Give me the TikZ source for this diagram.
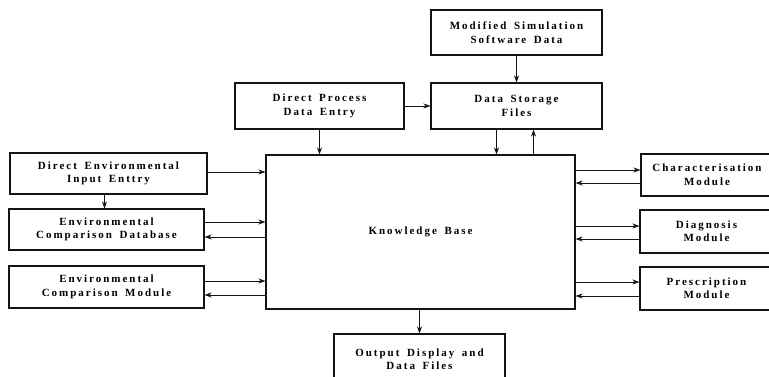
\documentclass[tikz,border=0pt]{standalone}
\usepackage{fontspec}
\setmainfont{Liberation Serif}
\newfontfamily\spacedfont[LetterSpace=18,WordSpace=1.6]{Liberation Serif}
\usetikzlibrary{arrows.meta,positioning,calc}
\definecolor{ink}{RGB}{20,20,20}
\tikzset{
  >={Stealth[length=2.5mm,width=1.8mm]},
  box/.style={draw=ink,line width=1.1pt,align=center,
    font=\spacedfont\bfseries\fontsize{11}{13.5}\selectfont,inner sep=2pt},
  flow/.style={->,line width=0.8pt,draw=ink},
}
\begin{document}
\begin{tikzpicture}[x=1pt,y=-1pt]
  \useasboundingbox (0,0) rectangle (769,377);
  % top row
  \node[box,minimum width=171pt,minimum height=45pt] (msd) at (516.5,32.5) {Modified Simulation\\Software Data};
  \node[box,minimum width=171pt,minimum height=46pt] (dsf) at (516.5,106) {Data Storage\\Files};
  \node[box,minimum width=169pt,minimum height=46pt] (dpde) at (319.5,106) {Direct Process\\Data Entry};
  % centre
  \node[box,minimum width=309pt,minimum height=154pt] (kb) at (420.5,232) {Knowledge Base};
  % left column
  \node[box,minimum width=197pt,minimum height=41pt] (deie) at (108.5,173.5) {Direct Environmental\\Input Enttry};
  \node[box,minimum width=195pt,minimum height=41pt] (ecd) at (106.5,229.5) {Environmental\\Comparison Database};
  \node[box,minimum width=195pt,minimum height=42pt] (ecm) at (106.5,287) {Environmental\\Comparison Module};
  % right column
  \node[box,minimum width=132pt,minimum height=42pt] (cm) at (707,175) {Characterisation\\Module};
  \node[box,minimum width=133pt,minimum height=43pt] (dm) at (706.5,231.5) {Diagnosis\\Module};
  \node[box,minimum width=133pt,minimum height=43pt] (pm) at (706.5,288.5) {Prescription\\Module};
  % bottom
  \node[box,minimum width=171pt,minimum height=50pt] (odf) at (419.5,359) {Output Display and\\Data Files};

  \draw[flow] (msd) -- (dsf);
  \draw[flow] (dpde) -- (dsf);
  \draw[flow] (dpde.south) -- (dpde.south |- kb.north);
  \draw[flow] ([xshift=-20pt]dsf.south) -- ([xshift=-20pt]dsf.south |- kb.north);
  \draw[flow] ([xshift=17pt]dsf.south |- kb.north) -- ([xshift=17pt]dsf.south);
  \draw[flow] ([yshift=1.5pt]deie.east) -- ([yshift=1.5pt]deie.east -| kb.west);
  \draw[flow] ([xshift=-4pt]deie.south) -- ([xshift=-4pt]deie.south |- ecd.north);
  \draw[flow] ([yshift=7.5pt]ecd.east) -- ([yshift=7.5pt]ecd.east -| kb.west);
  \draw[flow] ([yshift=-7.5pt]ecd.east -| kb.west) -- ([yshift=-7.5pt]ecd.east);
  \draw[flow] ([yshift=6pt]ecm.east) -- ([yshift=6pt]ecm.east -| kb.west);
  \draw[flow] ([yshift=-8pt]ecm.east -| kb.west) -- ([yshift=-8pt]ecm.east);
  \draw[flow] ([yshift=5pt]cm.west -| kb.east) -- ([yshift=5pt]cm.west);
  \draw[flow] ([yshift=-8pt]cm.west) -- ([yshift=-8pt]cm.west -| kb.east);
  \draw[flow] ([yshift=5.5pt]dm.west -| kb.east) -- ([yshift=5.5pt]dm.west);
  \draw[flow] ([yshift=-7.5pt]dm.west) -- ([yshift=-7.5pt]dm.west -| kb.east);
  \draw[flow] ([yshift=6.5pt]pm.west -| kb.east) -- ([yshift=6.5pt]pm.west);
  \draw[flow] ([yshift=-7.5pt]pm.west) -- ([yshift=-7.5pt]pm.west -| kb.east);
  \draw[flow] (kb.south -| odf.north) -- (odf.north);
\end{tikzpicture}
\end{document}
